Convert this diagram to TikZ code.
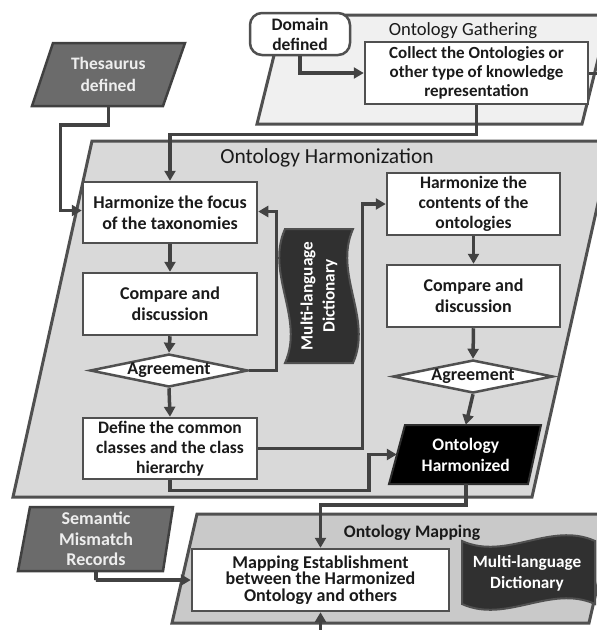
\documentclass[tikz,border=0pt]{standalone}
\usepackage{fontspec}
\setmainfont{Carlito}
\usetikzlibrary{arrows.meta,shapes.geometric}
\definecolor{edgec}{HTML}{505050}
\definecolor{linkc}{HTML}{424242}
\definecolor{harmfill}{HTML}{D9D9D9}
\definecolor{gathfill}{HTML}{F0F0F0}
\definecolor{mapfill}{HTML}{C9C9C9}
\definecolor{inputfill}{HTML}{6B6B6B}
\definecolor{dictfill}{HTML}{303030}
\definecolor{txtc}{HTML}{1A1A1A}
\definecolor{lighttxt}{HTML}{EEEEEE}
\begin{document}
\begin{tikzpicture}[x=1pt,y=-1pt,
  lbl/.style={font=\fontsize{18}{21}\selectfont\bfseries, text=txtc, align=center, inner sep=0pt},
  boxnode/.style={lbl, draw=edgec, line width=2.5pt, fill=white, rectangle},
  decision/.style={lbl, draw=edgec, line width=2.5pt, fill=white, diamond, aspect=5, minimum width=158pt, minimum height=33pt},
  container/.style={draw=edgec, line width=3pt},
  inputshape/.style={draw=edgec!80!black, line width=2.5pt, fill=inputfill},
  dictshape/.style={draw=edgec, line width=2pt, fill=dictfill},
  title/.style={font=\fontsize{#1}{#1}\selectfont, text=txtc, inner sep=0pt},
  link/.style={draw=linkc, line width=3.5pt, -{Triangle[length=10pt,width=11pt]}},
  plainlink/.style={draw=linkc, line width=3pt}
]
\useasboundingbox (0,0) rectangle (597,630);
\clip (0,0) rectangle (597,630);
\fill[white] (0,0) rectangle (597,630);

% containers
\draw[container, fill=gathfill] (257,124) -- (284,15) -- (609,15) -- (582,124) -- cycle;
\draw[container, fill=harmfill] (13,497) -- (92,141) -- (612,141) -- (532,497) -- cycle;
\draw[container, fill=mapfill] (172,623) -- (197,514) -- (614,514) -- (589,623) -- cycle;

\node[title=18.6] (gtitle) at (463,31) {Ontology Gathering};
\node[title=21.5] (htitle) at (327,158) {Ontology Harmonization};
\node[title=17.6, font=\fontsize{17.6}{17.6}\selectfont\bfseries] (mtitle) at (412,533) {Ontology Mapping};

% input parallelograms
\draw[inputshape] (32,106) -- (53,43) -- (185,43) -- (163,106) -- cycle;
\node[lbl, text=lighttxt, minimum width=131.5pt, minimum height=63pt, font=\fontsize{17.5}{22}\selectfont\bfseries] (thes) at (108.25,74.5) {Thesaurus\\defined};
\draw[inputshape] (18,571) -- (30,507) -- (173,507) -- (163,571) -- cycle;
\node[lbl, text=lighttxt, minimum width=144pt, minimum height=64pt, font=\fontsize{18}{20.5}\selectfont\bfseries] (sem) at (96,539) {Semantic\\Mismatch\\Records};

% dictionaries
\draw[dictshape] (285,229) .. controls (265,273.7) and (305,318.3) .. (285,363) -- (353,363) .. controls (373,318.3) and (333,273.7) .. (353,229) -- cycle;
\node[lbl, text=white, rotate=90, font=\fontsize{17.2}{22}\selectfont\bfseries] (vdict) at (319,296) {Multi-language\\Dictionary};
\draw[dictshape] (462,541) .. controls (506.3,561) and (550.7,521) .. (595,541) -- (595,604) .. controls (550.7,584) and (506.3,624) .. (462,604) -- cycle;
\node[lbl, text=white, font=\fontsize{17.2}{21}\selectfont\bfseries] (hdict) at (527,573) {Multi-language\\Dictionary};

% gathering
\node[lbl, draw=edgec, line width=2.5pt, fill=white, rounded corners=12pt, minimum width=100pt, minimum height=42pt, font=\fontsize{17.5}{20}\selectfont\bfseries] (domain) at (300,34) {Domain\\defined};
\node[boxnode, minimum width=223pt, minimum height=62pt, font=\fontsize{17}{19}\selectfont\bfseries] (collect) at (476.5,73) {Collect the Ontologies or\\other type of knowledge\\representation};

% left column
\node[boxnode, minimum width=174pt, minimum height=61pt] (focus) at (170,212.5) {Harmonize the focus\\of the taxonomies};
\node[boxnode, minimum width=174pt, minimum height=62pt] (cmpa) at (170,304) {Compare and\\discussion};
\node[decision] (agra) at (169,370.5) {Agreement};
\node[boxnode, minimum width=174pt, minimum height=61pt, font=\fontsize{17.5}{20}\selectfont\bfseries] (define) at (170,448.5) {Define the common\\classes and the class\\hierarchy};

% right column
\node[boxnode, minimum width=173pt, minimum height=62pt, font=\fontsize{17.5}{20}\selectfont\bfseries] (contents) at (473.5,204) {Harmonize the\\contents of the\\ontologies};
\node[boxnode, minimum width=173pt, minimum height=62pt] (cmpb) at (473.5,296) {Compare and\\discussion};
\node[decision, minimum width=160pt] (agrb) at (473,376.5) {Agreement};
\draw[draw=linkc!70!black, line width=2pt, fill=black] (389,484) -- (405,425) -- (541,425) -- (528,484) -- cycle;
\node[lbl, text=white, minimum width=137.5pt, minimum height=59pt, font=\fontsize{17.5}{21}\selectfont\bfseries] (harm) at (465.75,454.5) {Ontology\\Harmonized};

% mapping
\node[boxnode, minimum width=257pt, minimum height=62pt, font=\fontsize{18}{16.5}\selectfont\bfseries] (mapbox) at (320.5,580) {Mapping Establishment\\between the Harmonized\\Ontology and others};

% connectors
\draw[link] (domain.south) |- (collect.west);
\coordinate (stub) at (600,73);
\draw[plainlink] (collect.east) -- (stub);
\draw[link] (collect.south) -- ++(0,29) -| (focus.north);
\draw[link] (thes.south) -- ++(0,19) -- ++(-48,0) |- ([yshift=2pt]focus.west);
\draw[link] (focus.south) -- (cmpa.north);
\draw[link] (cmpa.south) -- (agra.north);
\draw[link] (agra.south) -- (define.north);
\draw[link] (agra.east) -- ++(27,0) |- ([yshift=1pt]focus.east);
\draw[link] (define.east) -- ++(104,0) |- (contents.west);
\draw[link] (define.south) -- ++(0,10) -- ++(199,0) |- (harm.west);
\draw[link] (contents.south) -- (cmpb.north);
\draw[link] (cmpb.south) -- (agrb.north);
\draw[link] (agrb.south) -- (harm.north);
\draw[link] (harm.south) -- ++(0,21) -| (mapbox.north);
\draw[link] (sem.south) -- ++(0,9) |- (mapbox.west);
\coordinate (bottomin) at (320.5,634);
\draw[link] (bottomin) -- (mapbox.south);
\end{tikzpicture}
\end{document}
